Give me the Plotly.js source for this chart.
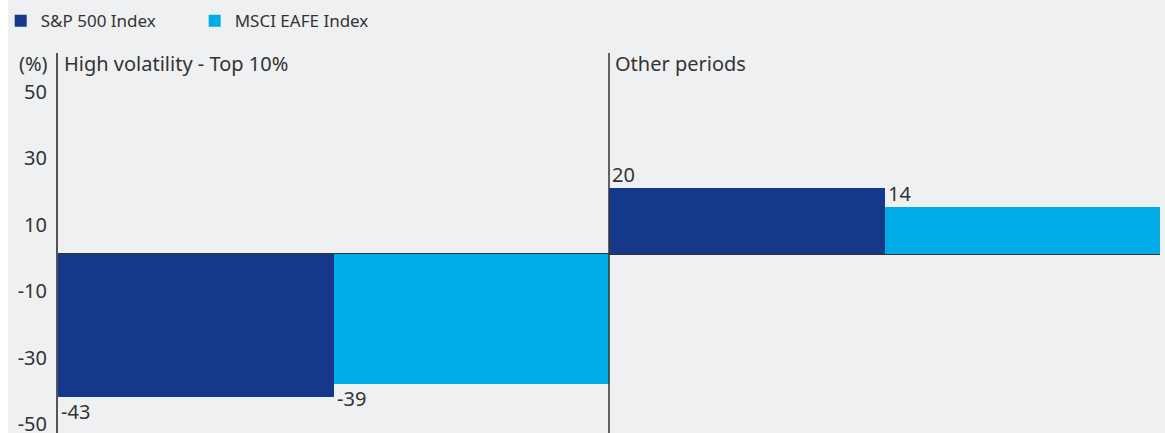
<!DOCTYPE html>
<html>
<head>
<meta charset="utf-8">
<script src="https://cdn.plot.ly/plotly-3.0.1.min.js"></script>
<style>
  html, body { margin: 0; padding: 0; background: #ffffff; overflow: hidden; }
  #chart { position: absolute; left: 8px; top: 0; width: 1157px; height: 433px; }
</style>
</head>
<body>
<div id="chart"></div>
<script>
const categories = ["High volatility - Top 10%", "Other periods"];
const seriesNames = ["S&P 500 Index", "MSCI EAFE Index"];
const sp500 = [-43, 20];
const msciEafe = [-39, 14];
const yTicks = [50, 30, 10, -10, -30, -50];
const yUnit = "(%)";

const colors = ["#15388a", "#00ace6"];
const FONT = "Noto Sans, Open Sans, sans-serif";
const TXT = "#333333";
const series = [sp500, msciEafe];

const traces = series.map((vals, j) => ({
  type: "bar",
  name: seriesNames[j],
  x: categories,
  y: vals,
  marker: { color: colors[j], line: { width: 0 } },
  hoverinfo: "skip"
}));

const annotations = [];
// value labels at the left edge of each bar, just past the bar end
series.forEach((vals, j) => {
  vals.forEach((v, i) => {
    annotations.push({
      x: i - 0.5 + j * 0.5, xref: "x",
      y: v, yref: "y",
      xanchor: "left", yanchor: v < 0 ? "top" : "bottom",
      xshift: 1, yshift: v < 0 ? 1 : -2,
      text: String(v), showarrow: false,
      font: { family: FONT, size: 20, color: TXT }
    });
  });
});
// panel titles
categories.forEach((c, i) => {
  annotations.push({
    x: i - 0.5, xref: "x", y: 1, yref: "paper",
    xanchor: "left", yanchor: "top", xshift: 4, yshift: 5,
    text: c, showarrow: false,
    font: { family: FONT, size: 20, color: TXT }
  });
});
// unit label
annotations.push({
  x: 0, xref: "paper", y: 1, yref: "paper",
  xanchor: "right", yanchor: "top", xshift: -8, yshift: 5,
  text: yUnit, showarrow: false,
  font: { family: FONT, size: 20, color: TXT }
});

const layout = {
  width: 1157, height: 433,
  margin: { l: 50, r: 5, t: 53, b: 0, pad: 0, autoexpand: false },
  paper_bgcolor: "#eff0f2",
  plot_bgcolor: "#eff0f2",
  barmode: "group",
  bargap: 0,
  bargroupgap: 0,
  showlegend: true,
  legend: {
    orientation: "h",
    xref: "paper", yref: "paper",
    x: -0.052, y: 1.131, xanchor: "left", yanchor: "top",
    font: { family: FONT, size: 17, color: TXT },
    bgcolor: "rgba(0,0,0,0)",
    itemwidth: 30,
    entrywidth: 149,
    traceorder: "normal"
  },
  xaxis: {
    type: "category",
    range: [-0.5, 1.5],
    showticklabels: false,
    showgrid: false,
    zeroline: false,
    showline: false,
    ticks: "",
    fixedrange: true
  },
  yaxis: {
    range: [-53.9, 60.5],
    tickvals: yTicks,
    ticktext: yTicks.map(String),
    showgrid: false,
    zeroline: true,
    zerolinecolor: "#333333",
    zerolinewidth: 2,
    showline: true,
    linecolor: "#555555",
    linewidth: 2,
    ticks: "",
    ticklabelshift: 4,
    ticklabelstandoff: 5,
    ticklabeloverflow: "allow",
    tickfont: { family: FONT, size: 20, color: TXT },
    fixedrange: true
  },
  shapes: [{
    type: "line", xref: "x", yref: "paper",
    x0: 0.5, x1: 0.5, y0: 0, y1: 1,
    line: { color: "#333333", width: 1.5 }
  }],
  annotations: annotations
};

Plotly.newPlot("chart", traces, layout, { displayModeBar: false, staticPlot: true });
</script>
</body>
</html>
